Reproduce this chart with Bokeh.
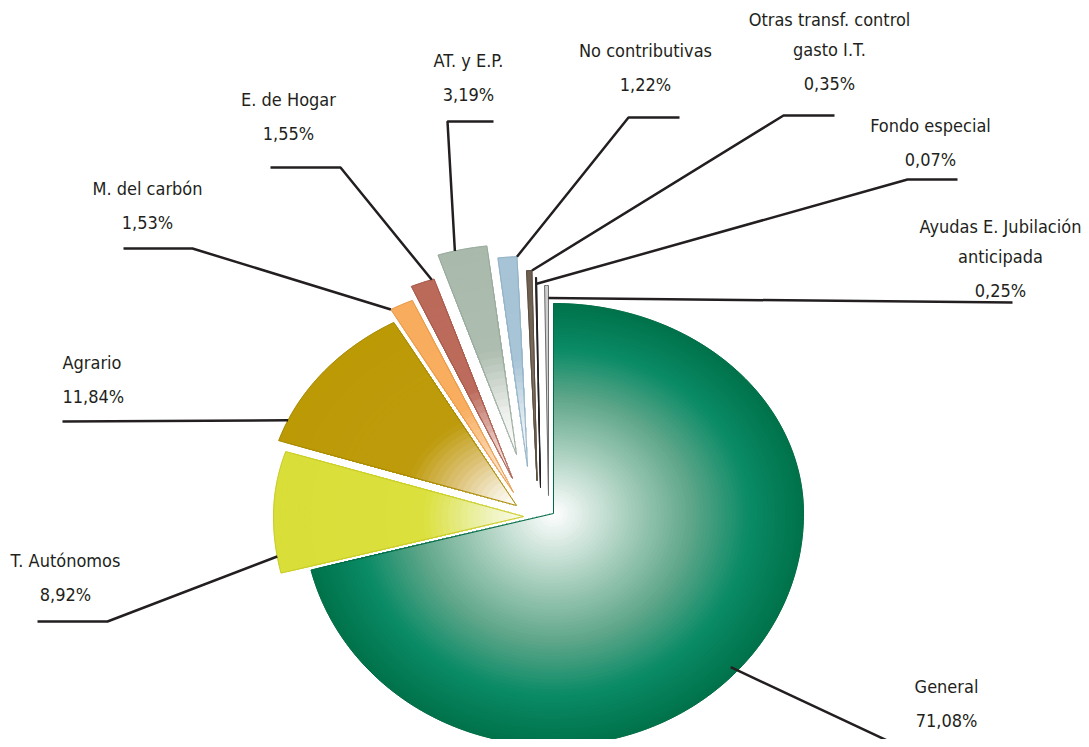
import numpy as np
from bokeh.plotting import figure
from bokeh.models import Range1d
from bokeh.core.properties import value
from bokeh.embed import file_html
from bokeh.resources import INLINE

# ---------------- data ----------------
categories = ["General", "T. Autónomos", "Agrario", "M. del carbón", "E. de Hogar",
              "AT. y E.P.", "No contributivas", "Otras transf. control\ngasto I.T.",
              "Fondo especial", "Ayudas E. Jubilación\nanticipada"]
shares = [71.08, 8.92, 11.84, 1.53, 1.55, 3.19, 1.22, 0.35, 0.07, 0.25]

# ---------------- styles ----------------
gradients = [
    [(0.0, "#FFFFFF"), (0.3, "#A7CEBD"), (0.55, "#5FA68A"), (0.78, "#0A8B66"), (1.0, "#00724A")],
    [(0.0, "#FAFBEA"), (0.15, "#EEF2B6"), (0.4, "#DBE03E"), (1.0, "#D9DE38")],
    [(0.0, "#FFFFFF"), (0.1, "#F4ECD4"), (0.25, "#DEC47C"), (0.45, "#BE9B0C"), (1.0, "#BC9A06")],
    [(0.0, "#FFFFFF"), (0.15, "#FCDDBC"), (0.45, "#F8AE5E"), (1.0, "#F8AD5E")],
    [(0.0, "#FFFFFF"), (0.15, "#EDD2CC"), (0.45, "#BC6B5C"), (1.0, "#BB6A5A")],
    [(0.0, "#FFFFFF"), (0.2, "#EEF0EC"), (0.5, "#ADBDB0"), (1.0, "#A9BAAC")],
    [(0.0, "#FFFFFF"), (0.2, "#E6EEF3"), (0.5, "#A8C5D7"), (1.0, "#A6C4D6")],
    [(0.0, "#8A7E70"), (1.0, "#6B5D4E")],
    [(0.0, "#231F20"), (1.0, "#231F20")],
    [(0.0, "#E2E2E2"), (1.0, "#C8C8C8")],
]
outline_colors = ["#006B44", "#C9CC2A", "#A88A05", "#E89A4C", "#A85A4B", "#98AA9C",
                  "#93B2C5", "#5A4D40", "#231F20", "#6E6E6E"]
layers = [70, 40, 40, 30, 30, 30, 30, 6, 2, 2]

CX, CY = 553, 513
RX, RY_UP, RY_DOWN = 250, 210, 232
offsets = [(0, 0), (-30, 3), (-37, -8), (-40, -21), (-41, -35), (-37, -59),
           (-26, -47), (-16.5, -33), (-13, -26), (-5, -18)]

# leader: (fraction along slice angle, radius fraction, elbow, end)
leaders = [(0.52, 0.97, (893, 743), (982, 743)),
           (0.13, 1.0, (107, 621), (37, 621)),
           (0.14, 1.0, (62, 421), (62, 421)),
           (0.0, 1.0, (192, 248), (123, 248)),
           (0.9, 1.0, (340, 167), (270, 167)),
           (0.35, 1.0, (447, 121), (493, 121)),
           (1.0, 1.0, (628, 117), (679, 117)),
           (1.0, 1.0, (783, 115), (834, 115)),
           (1.0, 0.97, (907, 179), (957, 179)),
           (1.0, 0.94, (1012, 302), (1012, 302))]
label_pos = [(946, 686, "center"), (65, 560, "center"), (62, 362, "left"),
             (147, 188, "center"), (288, 99, "center"), (468, 60, "center"),
             (645, 50, "center"), (829, 19, "center"), (930, 125, "center"),
             (1000, 226, "center")]
NAME_GAP, PCT_GAP = 30, 34
FONT = "DejaVu Sans Condensed"
INK = "#231F20"

W, H = 1081, 739
p = figure(width=W, height=H, output_backend="svg", toolbar_location=None,
           x_range=Range1d(0, W), y_range=Range1d(H, 0),
           x_axis_location=None, y_axis_location=None, min_border=0,
           outline_line_color=None, background_fill_color="white")
p.grid.visible = False


def hex2rgb(h):
    return np.array([int(h[i:i + 2], 16) for i in (1, 3, 5)], dtype=float)


def grad_color(stops, s):
    for (a, ca), (b, cb) in zip(stops[:-1], stops[1:]):
        if s <= b:
            f = 0 if b == a else (s - a) / (b - a)
            c = hex2rgb(ca) * (1 - f) + hex2rgb(cb) * f
            return "#%02x%02x%02x" % tuple(int(round(v)) for v in c)
    return stops[-1][1]


def arc_pt(ax, ay, t, s):
    ry = RY_UP if np.cos(t) >= 0 else RY_DOWN
    return ax + s * RX * np.sin(t), ay - s * ry * np.cos(t)


def sector(ax, ay, t0, t1, s):
    n = max(3, int(abs(t1 - t0) / np.radians(1)) + 2)
    ts = np.linspace(t0, t1, n)
    xs, ys = [ax], [ay]
    for t in ts:
        x, y = arc_pt(ax, ay, t, s)
        xs.append(x)
        ys.append(y)
    return xs, ys


total = sum(shares)
cum = np.concatenate([[0], np.cumsum(shares)]) / total * 2 * np.pi

for i, v in enumerate(shares):
    t0, t1 = cum[i], cum[i + 1]
    ax, ay = CX + offsets[i][0], CY + offsets[i][1]
    K = layers[i]
    xs_l, ys_l, cols = [], [], []
    for k in range(K):
        s = 1 - k / K
        xs, ys = sector(ax, ay, t0, t1, s)
        xs_l.append(xs)
        ys_l.append(ys)
        cols.append(grad_color(gradients[i], s - 0.5 / K))
    p.patches(xs_l, ys_l, fill_color=cols, line_color=cols, line_width=0.6)
    xs, ys = sector(ax, ay, t0, t1, 1.0)
    p.patch(xs, ys, fill_alpha=0, line_color=outline_colors[i], line_width=1)

    # leader line
    frac, rf, elbow, end = leaders[i]
    ta = t0 + frac * (t1 - t0)
    lx, ly = arc_pt(ax, ay, ta, rf)
    p.line([lx, elbow[0], end[0]], [ly, elbow[1], end[1]], line_color=INK,
           line_width=2.5)

    # label
    lx0, ly0, align = label_pos[i]
    lines = categories[i].split("\n")
    pct = ("%.2f" % v).replace(".", ",") + "%"
    xs_t, ys_t, tx = [], [], []
    y = ly0
    for ln in lines:
        xs_t.append(lx0); ys_t.append(y); tx.append(ln)
        y += NAME_GAP
    xs_t.append(lx0); ys_t.append(y - NAME_GAP + PCT_GAP); tx.append(pct)
    p.text(xs_t, ys_t, text=tx, text_align=align, text_baseline="middle",
           text_font=value(FONT), text_font_size="18px", text_color=INK)

open("out.html", "w").write(file_html(p, INLINE))
